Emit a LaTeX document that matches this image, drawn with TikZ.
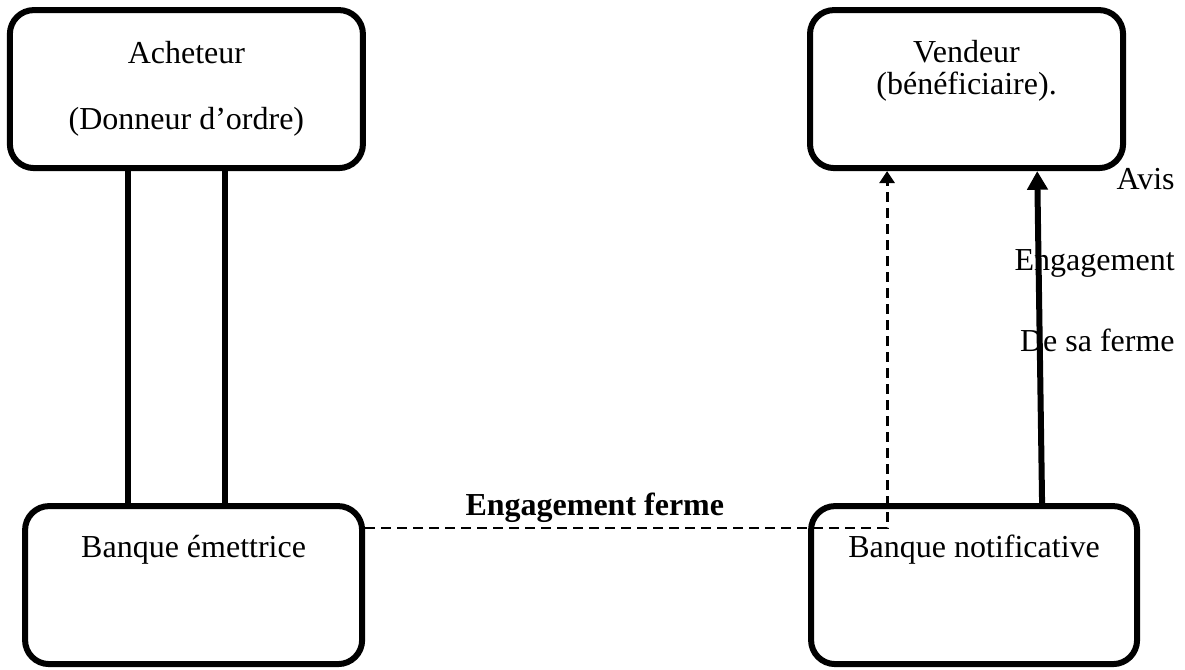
\documentclass[tikz,border=0pt]{standalone}
\usepackage{fontspec}
\setmainfont{Liberation Serif}
\usetikzlibrary{arrows.meta, positioning, calc}

\begin{document}
\begin{tikzpicture}[
        % Styles des blocs et des liaisons
        bloc/.style={
            rectangle,
            draw,
            line width=2.25pt,
            rounded corners=9pt,
            minimum height=59.25pt,
            align=center,
            font=\fontsize{12pt}{13.8pt}\selectfont
        },
        lien/.style={
            line width=2.25pt
        },
        fleche/.style={
            -{Triangle[length=7pt, width=7.5pt]},
            line width=2.25pt
        },
        pointille/.style={
            -{Triangle[length=4.5pt, width=5.6pt]},
            line width=1.1pt,
            dash pattern=on 3.75pt off 2.25pt
        },
        etiquette/.style={
            inner sep=0pt,
            font=\fontsize{12pt}{13.8pt}\selectfont
        },
        titre/.style={
            inner sep=0pt,
            font=\fontsize{12pt}{13.8pt}\selectfont\bfseries
        }
    ]

    \useasboundingbox (0,0) rectangle (444.375pt,-250.875pt);

    % --- 1. LES BLOCS ---

    % Acheteur (en haut a gauche)
    \node[bloc, minimum width=132.4pt] (acheteur) at (69.9pt,-33.4pt) {Acheteur\\[11pt](Donneur d’ordre)};

    % Vendeur (en haut a droite)
    \node[bloc, minimum width=117.4pt, text depth=16.5pt, right=165.4pt of acheteur] (vendeur) {Vendeur\\[-1.8pt](bénéficiaire).};

    % Les deux banques (en bas)
    \node[bloc, minimum width=126.4pt, text height=9pt, text depth=30pt, below=124.5pt of acheteur, xshift=2.7pt] (emettrice) {Banque émettrice};
    \node[bloc, minimum width=122.25pt, text height=9pt, text depth=30pt, right=166.1pt of emettrice] (notificative) {Banque notificative};

    % --- 2. LES LIAISONS ---

    % Acheteur -- Banque emettrice (double trait)
    \draw[lien] ([xshift=-21.9pt]acheteur.south) -- ([xshift=-21.9pt]acheteur.south |- emettrice.north);
    \draw[lien] ([xshift=14.5pt]acheteur.south) -- ([xshift=14.5pt]acheteur.south |- emettrice.north);

    % Banque emettrice -> Vendeur (pointille)
    \draw[pointille] ([yshift=21.4pt]emettrice.east) -| node[titre, pos=0.22, above=1.6pt] (engagement) {Engagement ferme} ([xshift=-29.8pt]vendeur.south);

    % Banque notificative -> Vendeur
    \draw[fleche] ([xshift=25.5pt]notificative.north) -- ([xshift=26.5pt]vendeur.south);

    % Texte a droite de la fleche
    \node[etiquette, align=right, anchor=north east] (avis) at ([xshift=18.4pt, yshift=1.4pt]vendeur.south east) {Avis\\[16.6pt]Engagement\\[16.6pt]De sa ferme};

\end{tikzpicture}
\end{document}
